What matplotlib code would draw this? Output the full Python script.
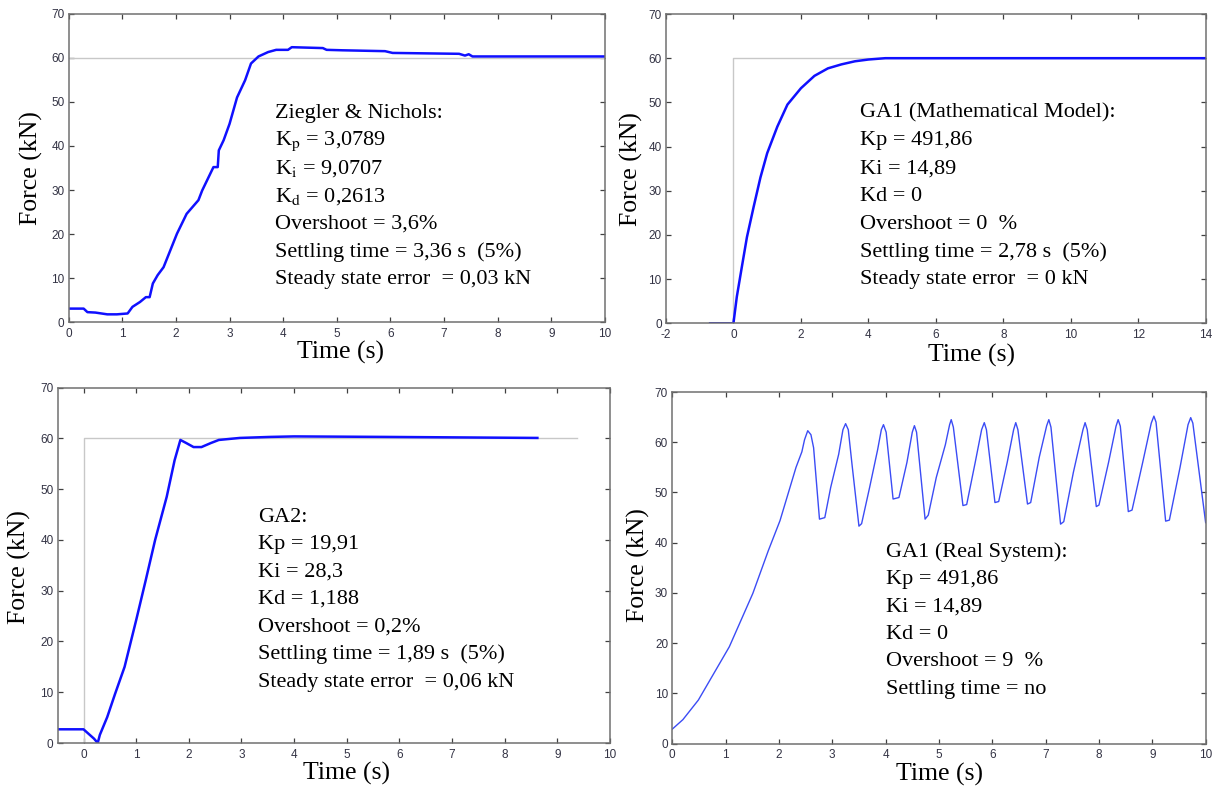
import matplotlib
matplotlib.use("Agg")
import matplotlib.pyplot as plt

plt.rcParams['mathtext.fontset'] = 'stix'
plt.rcParams['axes.unicode_minus'] = False

# Ziegler & Nichols response (top left)
zn_t = [0, 0.28, 0.35, 0.5, 0.72, 0.9, 1.1, 1.19, 1.33, 1.44, 1.51, 1.57, 1.66, 1.77,
        2.02, 2.2, 2.42, 2.49, 2.7, 2.78, 2.8, 2.89, 3.0, 3.14, 3.29, 3.4, 3.54, 3.72,
        3.87, 4.09, 4.16, 4.74, 4.81, 5.1, 5.9, 6.04, 7.28, 7.39, 7.46, 7.53, 10]
zn_f = [3.1, 3.1, 2.3, 2.2, 1.8, 1.8, 2.0, 3.5, 4.6, 5.7, 5.7, 8.8, 10.7, 12.5,
        20.1, 24.6, 27.7, 29.9, 35.2, 35.2, 39.0, 41.3, 45.0, 51.0, 54.9, 58.7, 60.3, 61.3,
        61.8, 61.8, 62.4, 62.2, 61.8, 61.7, 61.5, 61.1, 60.9, 60.5, 60.8, 60.3, 60.3]

# GA1 mathematical model (top right)
ga1m_t = [-0.69, 0, 0.1, 0.25, 0.4, 0.6, 0.8, 1.0, 1.3, 1.6, 2.0, 2.4, 2.8, 3.2, 3.6, 4.0, 4.5, 6, 14]
ga1m_f = [0, 0, 6, 12.8, 19.5, 26.4, 33, 38.5, 44.5, 49.5, 53.2, 56, 57.7, 58.6, 59.3, 59.7, 60, 60, 60]

# GA2 response (bottom left)
ga2_t = [-0.49, 0, 0.2, 0.27, 0.31, 0.45, 0.6, 0.78, 1.0, 1.18, 1.36, 1.58, 1.73, 1.84,
         1.95, 2.09, 2.24, 2.42, 2.57, 2.97, 3.55, 4.0, 5.74, 8.62]
ga2_f = [2.7, 2.7, 0.85, 0, 1.6, 5.1, 9.7, 15, 24.2, 32, 40, 48.5, 55.7, 59.7,
         59.1, 58.3, 58.3, 59.1, 59.7, 60.1, 60.3, 60.4, 60.3, 60.1]

# GA1 real system (bottom right)
ga1r_t = [0, 0.2, 0.49, 0.78, 1.07, 1.51, 1.8, 2.02, 2.17, 2.32, 2.43, 2.48, 2.54, 2.6, 2.65,
          2.76, 2.86, 2.97, 3.12, 3.2, 3.25, 3.3, 3.37, 3.5, 3.55, 3.7, 3.85, 3.92, 3.96, 4.01,
          4.14, 4.25, 4.4, 4.5, 4.54, 4.58, 4.74, 4.8, 4.95, 5.12, 5.2, 5.23, 5.27, 5.45, 5.52,
          5.68, 5.8, 5.85, 5.89, 6.05, 6.12, 6.28, 6.4, 6.44, 6.48, 6.66, 6.72, 6.88, 7.02, 7.06,
          7.1, 7.28, 7.34, 7.52, 7.7, 7.74, 7.78, 7.95, 8.0, 8.18, 8.32, 8.36, 8.4, 8.55, 8.62,
          8.82, 8.98, 9.03, 9.07, 9.25, 9.32, 9.52, 9.67, 9.72, 9.76, 10]
ga1r_f = [2.9, 4.8, 8.7, 14, 19.3, 29.9, 38.4, 44.4, 49.7, 55, 58.1, 60.5, 62.3, 61.5, 58.9,
          44.7, 45, 51, 57.6, 62.5, 63.7, 62.5, 55.6, 43.3, 43.8, 51, 58.5, 62.5, 63.5, 62,
          48.7, 49, 56, 62, 63.3, 62, 44.7, 45.5, 53, 59.5, 63.5, 64.5, 63, 47.4, 47.6,
          56, 62.5, 63.9, 62.5, 48, 48.2, 56, 62.5, 63.9, 62.5, 47.7, 48, 57, 63.3, 64.5,
          63, 43.7, 44.2, 54, 62.5, 63.9, 62.5, 47.2, 47.5, 56, 63.2, 64.5, 63.2, 46.2, 46.5,
          56, 63.8, 65.2, 64, 44.3, 44.5, 55, 63.5, 64.9, 63.8, 44]

# reference step inputs
ref_tl_t, ref_tl_f = [0, 10], [60, 60]
ref_tr_t, ref_tr_f = [0, 0, 14], [0, 60, 60]
ref_bl_t, ref_bl_f = [0, 0, 9.38], [0, 60, 60]

# annotation texts
txt_tl = ["Ziegler & Nichols:", r"K$_\mathrm{p}$ = 3,0789", r"K$_\mathrm{i}$ = 9,0707",
          r"K$_\mathrm{d}$ = 0,2613", "Overshoot = 3,6%", "Settling time = 3,36 s  (5%)",
          "Steady state error  = 0,03 kN"]
txt_tr = ["GA1 (Mathematical Model):", "Kp = 491,86", "Ki = 14,89", "Kd = 0",
          "Overshoot = 0  %", "Settling time = 2,78 s  (5%)", "Steady state error  = 0 kN"]
txt_bl = ["GA2:", "Kp = 19,91", "Ki = 28,3", "Kd = 1,188", "Overshoot = 0,2%",
          "Settling time = 1,89 s  (5%)", "Steady state error  = 0,06 kN"]
txt_br = ["GA1 (Real System):", "Kp = 491,86", "Ki = 14,89", "Kd = 0",
          "Overshoot = 9  %", "Settling time = no"]

serif = "Liberation Serif"
blue = "#1010ff"
refc = "#c8c8c8"

fig = plt.figure(figsize=(12.15, 7.87), dpi=100)


def setup(ax, xlim, xticks, xlab_x, xlab_y, ylab_x, ylab_y):
    ax.set_xlim(xlim)
    ax.set_ylim(0, 70)
    ax.set_xticks(xticks)
    ax.set_yticks(range(0, 71, 10))
    for s in ax.spines.values():
        s.set_color("#707070")
        s.set_linewidth(1.1)
    ax.tick_params(direction="in", length=3.5, width=0.9, color="#404040",
                   top=True, right=True, labelsize=8.5, labelcolor="#333344")
    ax.tick_params(axis="x", pad=4)
    ax.tick_params(axis="y", pad=3)
    for lb in ax.get_xticklabels() + ax.get_yticklabels():
        lb.set_family("Liberation Sans")
    ax.set_xlabel("Time (s)", family=serif, fontsize=18.5)
    ax.xaxis.label.set_va("center")
    ax.xaxis.set_label_coords(xlab_x, xlab_y)
    ax.set_ylabel("Force (kN)", family=serif, fontsize=18.5)
    ax.yaxis.label.set_va("center")
    ax.yaxis.set_label_coords(ylab_x, ylab_y)


def note(ax, lines, x, y, dy):
    for i, s in enumerate(lines):
        ax.text(x, y - i * dy, s, transform=ax.transAxes, family=serif,
                fontsize=16, va="center", ha="left")


# top left
ax1 = fig.add_axes([0.0565, 0.5905, 0.4414, 0.3921])
ax1.plot(ref_tl_t, ref_tl_f, color=refc, lw=1)
ax1.plot(zn_t, zn_f, color=blue, lw=1.8)
setup(ax1, (0, 10), range(0, 11), 0.507, -0.097, -0.070, 0.5)
note(ax1, txt_tl, 0.385, 0.678, 0.090)

# top right
ax2 = fig.add_axes([0.5481, 0.5892, 0.4444, 0.3930])
ax2.plot(ref_tr_t, ref_tr_f, color=refc, lw=1)
ax2.plot(ga1m_t, ga1m_f, color=blue, lw=1.8)
setup(ax2, (-2, 14), range(-2, 15, 2), 0.566, -0.1025, -0.064, 0.5)
note(ax2, txt_tr, 0.359, 0.680, 0.090)

# bottom left
ax3 = fig.add_axes([0.0475, 0.0559, 0.4546, 0.4515])
ax3.plot(ref_bl_t, ref_bl_f, color=refc, lw=1)
ax3.plot(ga2_t, ga2_f, color=blue, lw=1.8)
setup(ax3, (-0.49, 10), range(0, 11), 0.522, -0.087, -0.069, 0.496)
note(ax3, txt_bl, 0.363, 0.636, 0.0774)

# bottom right
ax4 = fig.add_axes([0.5533, 0.0550, 0.4390, 0.4469])
ax4.plot(ga1r_t, ga1r_f, color="#3b4cf5", lw=1.0)
setup(ax4, (0, 10), range(0, 11), 0.501, -0.087, -0.064, 0.508)
note(ax4, txt_br, 0.401, 0.545, 0.078)

fig.savefig("out.png", dpi=100)
